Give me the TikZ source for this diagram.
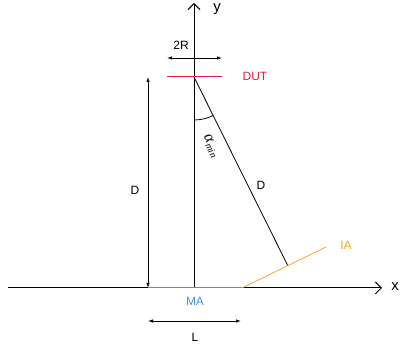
\documentclass[tikz,border=0pt]{standalone}
\usepackage{fontspec}
\setmainfont{Liberation Sans}
\newfontfamily\greekfont{Liberation Serif}
\usetikzlibrary{arrows.meta}
\definecolor{dutred}{HTML}{E0203C}
\definecolor{mablue}{HTML}{4A90E2}
\definecolor{iaorange}{HTML}{F5A623}
\begin{document}
\begin{tikzpicture}[x=1pt,y=-1pt, line width=0.8pt,
  axis/.style={-{Straight Barb[length=6pt,width=12pt,line width=1pt]}, line width=1pt},
  dim/.style={{Latex[length=5pt,width=3.5pt]}-{Latex[length=5pt,width=3.5pt]}},
  lbl/.style={font=\fontsize{12}{14}\selectfont, inner sep=0pt}]
\useasboundingbox (0,0) rectangle (400,347);
% key points
\coordinate (O) at (194,288);
\coordinate (ytop) at (194,3);
\coordinate (xleft) at (8,288);
\coordinate (xright) at (382,288);
\coordinate (dut) at (194,77);
\coordinate (dutL) at (167,77);
\coordinate (dutR) at (222,77);
\coordinate (rL) at (167,58);
\coordinate (rR) at (222,58);
\coordinate (maL) at (148,288);
\coordinate (maR) at (242,288);
\coordinate (iaE) at (326,247);
\coordinate (hit) at (288,266);
\coordinate (dTop) at (148,77);
\coordinate (lL) at (148,321);
\coordinate (lR) at (241,321);
% axes
\draw[axis] (xleft) -- (xright);
\draw[axis] (O) -- (ytop);
\node[lbl, font=\fontsize{15}{17}\selectfont] (xlab) at (395,287) {x};
\node[lbl, font=\fontsize{15}{17}\selectfont] (ylab) at (217,9) {y};
% 2R
\draw[dim] (rL) -- (rR);
\node[lbl] (tworl) at (181,45) {2R};
% DUT
\draw[draw=dutred, line width=1pt] (dutL) -- (dutR);
\node[lbl, text=dutred] (dutlab) at (255,76) {DUT};
% D vertical
\draw[dim] (maL) -- (dTop);
\node[lbl] (dv) at (135,190) {D};
% diagonal
\draw (dut) -- (hit);
\node[lbl] (dd) at (261,185) {D};
% angle
\draw (194,120) arc[start angle=90, end angle=63.6, radius=43];
\node[inner sep=0pt, rotate=-63.6] (alab) at (211,146)
  {\greekfont\itshape\fontsize{16}{18}\selectfont α\raisebox{-0.35ex}{\fontsize{10}{12}\selectfont min}};
% MA and IA
\draw[draw=mablue, line width=1pt] (maL) -- (maR);
\node[lbl, text=mablue] (malab) at (195,301) {MA};
\draw[draw=iaorange] (maR) -- (iaE);
\node[lbl, text=iaorange] (ialab) at (346,245) {IA};
% L
\draw[dim] (lL) -- (lR);
\node[lbl] (llab) at (195,337) {L};
\end{tikzpicture}
\end{document}
